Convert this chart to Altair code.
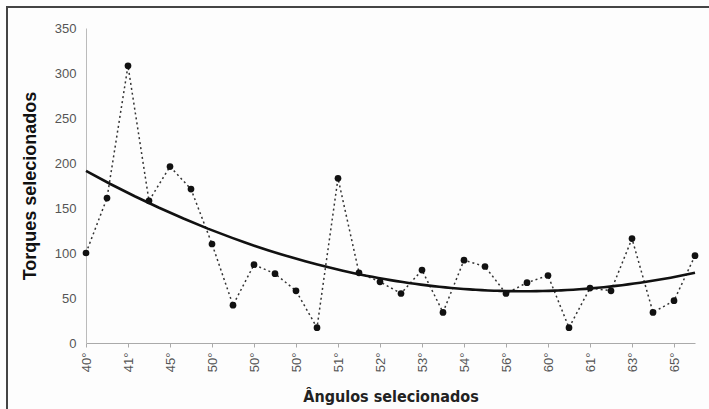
import altair as alt
import pandas as pd

torques = [100, 161, 308, 158, 196, 171, 110, 42, 87, 77, 58, 17, 183, 78, 68,
           55, 81, 34, 92, 85, 55, 67, 75, 17, 61, 58, 116, 34, 47, 97]
shown_labels = ["40°", "41°", "45°", "50°", "50°", "50°", "51°", "52°",
                "53°", "54°", "56°", "60°", "61°", "63°", "65°"]
y_ticks = [0, 50, 100, 150, 200, 250, 300, 350]

idx = list(range(1, len(torques) + 1))
df = pd.DataFrame({"idx": idx, "torque": torques})

lab_js = "[" + ",".join("'" + s + "'" for s in shown_labels) + "]"
label_expr = f"datum.value % 2 == 1 ? {lab_js}[(datum.value - 1) / 2] : ''"

FONT = "Liberation Sans"
NARROW = "DejaVu Sans Condensed, Liberation Sans, sans-serif"
GRAY = "#555555"

x_enc = alt.X(
    "idx:Q",
    scale=alt.Scale(domain=[1, 30], nice=False, zero=False),
    axis=alt.Axis(
        values=idx, labelExpr=label_expr, labelAngle=270, labelAlign="right",
        labelBaseline="middle", labelFont=FONT, labelFontSize=13, labelColor=GRAY,
        tickColor="#aaaaaa", tickSize=4, domainColor="#aaaaaa", grid=False,
        labelPadding=5, labelOverlap=False,
        title="Ângulos selecionados", titleFont=NARROW,
        titleFontSize=16, titleFontWeight="bold", titleColor="#222222",
        titlePadding=17,
    ),
)
y_enc = alt.Y(
    "torque:Q",
    scale=alt.Scale(domain=[0, 350], nice=False),
    axis=alt.Axis(
        values=y_ticks, labelFont=FONT, labelFontSize=13, labelColor=GRAY,
        tickSize=0, domainColor="#bbbbbb", grid=False, labelPadding=10,
        title="Torques selecionados", titleFont=FONT, titleFontSize=18,
        titleFontWeight="bold", titleColor="#111111", titlePadding=15,
    ),
)

base = alt.Chart(df)
dotted = base.mark_line(color="#333333", strokeWidth=1.5, strokeDash=[2, 3]).encode(x=x_enc, y=y_enc)
points = base.mark_circle(color="#111111", size=45, opacity=1).encode(x="idx:Q", y="torque:Q")
trend = base.transform_regression(
    "idx", "torque", method="poly", order=2, extent=[1, 30]
).mark_line(color="#111111", strokeWidth=2.6).encode(x="idx:Q", y="torque:Q")

frame = alt.Chart(pd.DataFrame({"a": [0]})).mark_rect(
    fill=None, stroke="#444444", strokeWidth=2, clip=False
).encode(
    x=alt.value(-79), x2=alt.value(700), y=alt.value(-21), y2=alt.value(420)
)

chart = alt.layer(dotted, trend, points, frame).properties(
    width=609, height=315,
    padding={"left": 86, "top": 28, "right": 14, "bottom": 66},
    autosize=alt.AutoSizeParams(type="none"),
    background="#fdfdfd",
).configure_view(stroke=None)

chart.save("out.html", embed_options={"renderer": "svg", "actions": False})
